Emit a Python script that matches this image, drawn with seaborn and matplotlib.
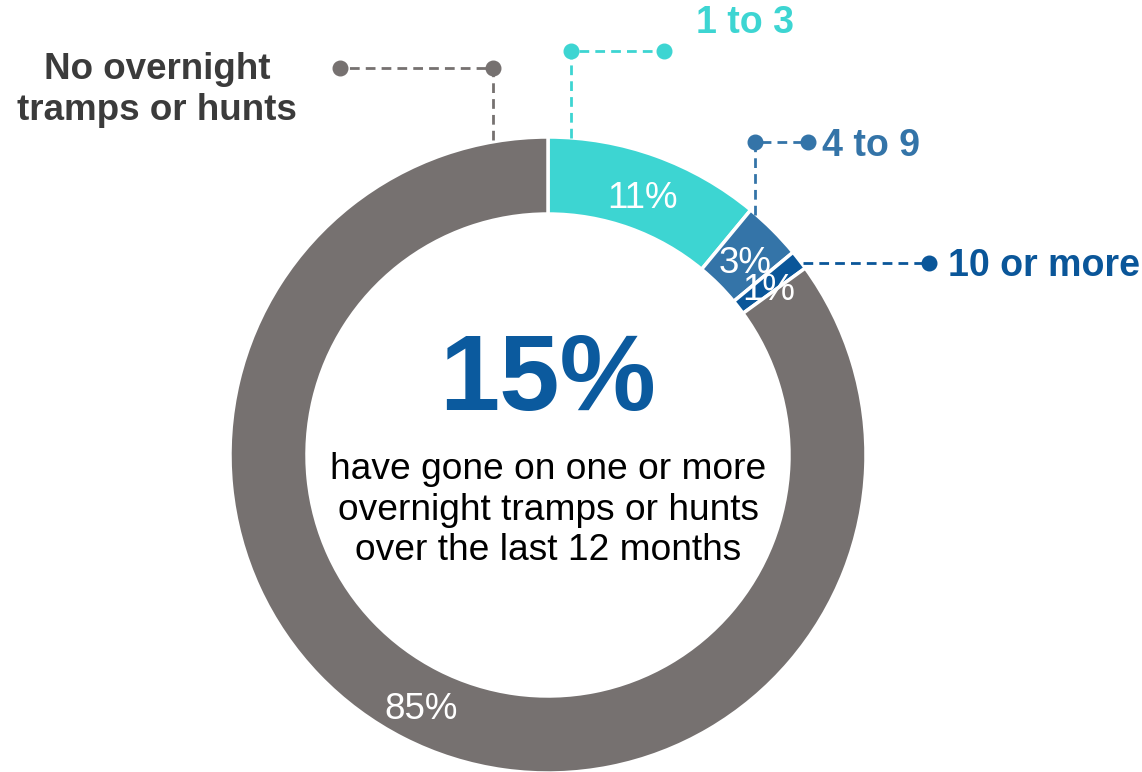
import seaborn as sns
import matplotlib.pyplot as plt

# data
categories = ['1 to 3', '4 to 9', '10 or more', 'No overnight\ntramps or hunts']
shares = [11, 3, 1, 85]
colors = ['#3DD5D2', '#3474A8', '#0A5699', '#767170']
text_colors = ['#3DD5D2', '#3474A8', '#0A5699', '#3B3B3B']
headline = '15%'
subtitle = 'have gone on one or more\novernight tramps or hunts\nover the last 12 months'

sns.set_style('white')
plt.rcParams['font.family'] = ['Liberation Sans', 'DejaVu Sans']

W, H = 1142, 772
fig = plt.figure(figsize=(W / 100, H / 100), dpi=100)
ax = fig.add_axes([0, 0, 1, 1])

# donut, in pixel coordinates (y flipped)
cx, cy, r_out, ring = 548, H - 455, 318, 77
wedges, _, pcts = ax.pie(
    shares, colors=colors, startangle=90, counterclock=False,
    center=(cx, cy), radius=r_out, autopct='%.0f%%', pctdistance=0.877,
    wedgeprops=dict(width=ring, edgecolor='white', linewidth=2.5),
    textprops=dict(color='white', fontsize=26.5),
)
for t in pcts:
    x, y = t.get_position()
    t.set_position((x, y - 6))
ax.set_xlim(0, W)
ax.set_ylim(0, H)
ax.set_aspect('equal')
ax.axis('off')

# center text
ax.text(cx, H - 382, headline, ha='center', va='center', fontsize=78,
        fontweight='bold', color='#0B5A9E')
ax.text(cx, H - 510, subtitle, ha='center', va='center', fontsize=26.7,
        color='black', linespacing=1.2)

# leader lines
dash = dict(linestyle=(0, (3.5, 2.2)), linewidth=2)


def leader(pts, color, dots):
    xs = [p[0] for p in pts]
    ys = [H - p[1] for p in pts]
    ax.plot(xs, ys, color=color, **dash)
    for i in dots:
        ax.plot(xs[i], ys[i], 'o', color=color, markersize=10.5)


leader([(493, 140), (493, 68), (340, 68)], colors[3], [1, 2])
leader([(571, 138), (571, 51), (664, 51)], colors[0], [1, 2])
leader([(755, 215), (755, 142), (808, 142)], colors[1], [1, 2])
leader([(803, 263), (929, 263)], colors[2], [1])

# category labels
ax.text(157, H - 90, categories[3], ha='center', va='center', fontsize=26.5,
        fontweight='bold', color=text_colors[3], linespacing=1.2)
ax.text(696, H - 23, categories[0], ha='left', va='center', fontsize=27,
        fontweight='bold', color=text_colors[0])
ax.text(822, H - 146, categories[1], ha='left', va='center', fontsize=27,
        fontweight='bold', color=text_colors[1])
ax.text(948, H - 266, categories[2], ha='left', va='center', fontsize=27,
        fontweight='bold', color=text_colors[2])

fig.savefig('out.png', dpi=100)
